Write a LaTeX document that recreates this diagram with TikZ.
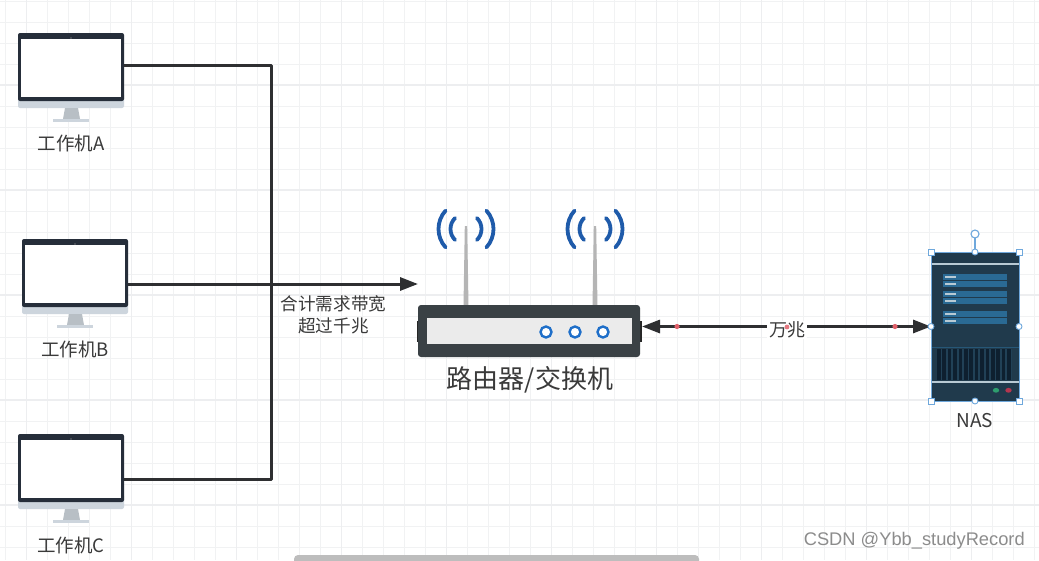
\documentclass[tikz,border=0pt]{standalone}
\usepackage{fontspec}
\setmainfont{Noto Sans CJK SC}
\newfontfamily\markfont{Liberation Sans}
\usetikzlibrary{arrows.meta}
\definecolor{gridlight}{HTML}{F1F2F3}
\definecolor{gridheavy}{HTML}{EDEEF0}
\definecolor{inkc}{HTML}{2E2F31}
\definecolor{txtc}{HTML}{3A3A3A}
\definecolor{monframe}{HTML}{262E3A}
\definecolor{monbase}{HTML}{CDD5DD}
\definecolor{monstand}{HTML}{B8BFC5}
\definecolor{rtbody}{HTML}{3A4145}
\definecolor{rtpanel}{HTML}{EBEBEB}
\definecolor{wifi}{HTML}{1F5BAA}
\definecolor{antc}{HTML}{B5B5B5}
\definecolor{nasbody}{HTML}{203A4C}
\definecolor{nasbar}{HTML}{2A6A94}
\definecolor{nasvent}{HTML}{0E2030}
\definecolor{nasline}{HTML}{B8CAD4}
\definecolor{hand}{HTML}{6FA8DC}
\definecolor{ledring}{HTML}{1F6FC9}
\definecolor{ledg}{HTML}{2E9E6E}
\definecolor{ledr}{HTML}{B5364F}
\definecolor{scrollc}{HTML}{BDBDBD}
\definecolor{dotc}{HTML}{E0606A}
\definecolor{markc}{HTML}{8C8C8C}
\tikzset{
 x=1pt,y=-1pt,
 wire/.style={draw=inkc,line width=3pt,line join=round},
 tip/.style={-{Triangle[length=18pt,width=13pt]}},
 txt/.style={text=txtc,inner sep=0pt,font=\fontsize{18.5}{22}\selectfont},
 hsq/.style={draw=hand,fill=white,line width=0.9pt},
 monnode/.style={minimum width=106pt,minimum height=75pt,inner sep=0pt,outer sep=0pt},
 reddot/.style={fill=dotc,draw=none},
}
\newcommand\monitorpic[3]{%
 \begin{scope}[shift={(#2,#3)}]
  \node[monnode,anchor=north west] (#1) at (0,0) {};
  \fill[monbase,rounded corners=2pt] (0,60) rectangle (106,75);
  \fill[monframe,rounded corners=2pt] (0,0) -- (106,0) -- (106,68) -- (0,68) -- cycle;
  \fill[white] (3,6) rectangle (103,64);
  \fill[white!70!black] (53,5.0) circle (0.6);
  \fill[monstand] (47,75) -- (60,75) -- (62,86) -- (45,86) -- cycle;
  \fill[monbase] (35,86) rectangle (71,88.5);
 \end{scope}}
\newcommand\wifiarcs[2]{%
 \draw[wifi,line width=3.8pt,line cap=round] (#1,#2) ++(-42:27.5) arc[start angle=-42,end angle=42,radius=27.5];
 \draw[wifi,line width=3.8pt,line cap=round] (#1,#2) ++(138:27.5) arc[start angle=138,end angle=222,radius=27.5];
 \draw[wifi,line width=3.8pt,line cap=round] (#1,#2) ++(-45:15.5) arc[start angle=-45,end angle=45,radius=15.5];
 \draw[wifi,line width=3.8pt,line cap=round] (#1,#2) ++(135:15.5) arc[start angle=135,end angle=225,radius=15.5];
 }
\begin{document}
\begin{tikzpicture}
\useasboundingbox (0,0) rectangle (1039,560);
\fill[white] (0,0) rectangle (1039,560);
% grid
\foreach \k in {0,...,49}{
  \pgfmathsetmacro\gx{5.7+21*\k}
  \draw[gridlight,line width=1pt] (\gx,0) -- (\gx,560);}
\foreach \k in {0,...,26}{
  \pgfmathsetmacro\gy{1+21*\k}
  \draw[gridlight,line width=1pt] (0,\gy) -- (1039,\gy);}
\foreach \k in {0,...,9}{
  \pgfmathsetmacro\gx{26.7+105*\k}
  \draw[gridheavy,line width=1.2pt] (\gx,0) -- (\gx,560);}
\foreach \k in {0,...,5}{
  \pgfmathsetmacro\gy{85+105*\k}
  \draw[gridheavy,line width=1.2pt] (0,\gy) -- (1039,\gy);}
% coordinates of the bus
\coordinate (busTop) at (271,65);
\coordinate (busBot) at (271,479);
\coordinate (rtIn) at (418,284);
% monitors
\monitorpic{monA}{18}{33}
\monitorpic{monB}{22}{239}
\monitorpic{monC}{18}{434}
\node[txt] (lblA) at (71,143) {工作机A};
\node[txt] (lblB) at (75,349) {工作机B};
\node[txt] (lblC) at (71,545) {工作机C};
% router
\wifiarcs{466}{229}
\wifiarcs{595}{229}
\fill[antc] (464.8,226) -- (467.2,226) -- (468.5,306) -- (463.5,306) -- cycle;
\fill[antc] (593.8,226) -- (596.2,226) -- (597.5,306) -- (592.5,306) -- cycle;
\fill[black!85] (416.5,321) rectangle (420,342);
\fill[black!85] (638,321) rectangle (642,342);
\node[fill=rtbody,rounded corners=3pt,minimum width=222pt,minimum height=52pt,inner sep=0pt,outer sep=0pt] (router) at (529,331) {};
\node[fill=rtpanel,minimum width=205pt,minimum height=26pt,inner sep=0pt] (panel) at (529.5,331) {};
\foreach \cx/\nm in {546/ledA,575/ledB,603/ledC}
  \node[circle,draw=ledring,fill=white,line width=2.4pt,minimum size=11pt,inner sep=0pt] (\nm) at (\cx,332) {};
\node[text=txtc,inner sep=0pt,font=\fontsize{26}{30}\selectfont] (rtlabel) at (530,380) {路由器/交换机};
% NAS
\node[fill=nasbody,minimum width=88pt,minimum height=149pt,inner sep=0pt,outer sep=0pt] (nas) at (975,326.5) {};
\fill[nasline] (931,263.2) rectangle (1019,264.8);
\fill[nasline] (931,381.2) rectangle (1019,382.8);
\foreach \a/\b in {274/280,281/287,291/297,298/304,311/317,318/324}{
  \fill[nasbar] (943,\a) rectangle (1007,\b);
  \fill[nasline] (945,{(\a+\b)/2-0.8}) rectangle (956,{(\a+\b)/2+0.8});}
\draw[nasbar!60!nasbody,line width=0.8pt] (931,347) -- (1019,347);
\fill[nasbody!85!nasbar] (937,349) rectangle (1012,380);
\foreach \k in {0,...,13}{
  \fill[nasvent] ({937+5.4*\k},349) rectangle ({940.5+5.4*\k},380);}
\fill[ledg] (996,390.3) ellipse (3.2 and 2.4);
\fill[ledr] (1008.5,390.3) ellipse (3.2 and 2.4);
\node[txt,font=\fontsize{19}{22}\selectfont] (naslabel) at (975,421) {NAS};
% wires
\draw[wire] (monA.east |- busTop) -- (busTop) -- (busBot) -- (monC.east |- busBot);
\draw[wire,tip] (monB.east |- rtIn) -- (rtIn);
\node[txt,align=center,font=\fontsize{17.6}{22}\selectfont] (sumlabel) at (333.5,315) {合计需求带宽\\超过千兆};
% link
\coordinate (rtOut) at (642,326.5);
\draw[wire,{Triangle[length=18pt,width=13pt]}-{Triangle[length=18pt,width=13pt]}] (rtOut) -- (nas.west |- rtOut);
\fill[reddot] (677,326.5) circle (2.6);
\fill[reddot] (895,326.5) circle (2.6);
\node[txt,fill=white,inner xsep=2pt,inner ysep=1pt,font=\fontsize{18}{22}\selectfont] (wan) at (787,330) {万兆};
\fill[reddot,opacity=0.85] (787,327) circle (2.4);
% selection
\draw[hand,line width=0.9pt] (nas.north west) rectangle (nas.south east);
\draw[hand,line width=1.2pt] (975,252) -- (975,236);
\node[circle,draw=hand,fill=white,line width=1.1pt,minimum size=8pt,inner sep=0pt] (rot) at (975,234) {};
\foreach \hx/\hy in {931/252,1019/252,931/401,1019/401}
  \draw[hsq] ({\hx-3},{\hy-3}) rectangle ({\hx+3},{\hy+3});
\foreach \hx/\hy in {975/252,975/401,931/326.5,1019/326.5}
  \draw[hsq] (\hx,\hy) circle (3);
% watermark
\node[anchor=east,inner sep=0pt,text=markc,font=\markfont\fontsize{18.3}{22}\selectfont] (wm) at (1025,541) {CSDN @Ybb\_studyRecord};
% scrollbar
\fill[scrollc,rounded corners=4pt] (294,555) rectangle (699,568);
\end{tikzpicture}
\end{document}
